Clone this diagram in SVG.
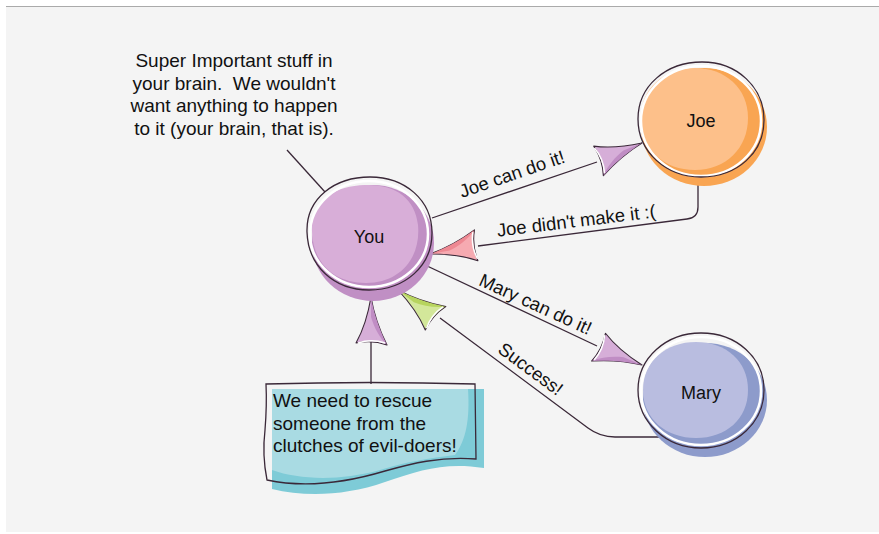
<svg xmlns="http://www.w3.org/2000/svg" width="879" height="534" viewBox="0 0 879 534">
  <style>
    .lbl { font-family: "Liberation Sans", Arial, sans-serif; font-size: 18px; fill: #111; }
    .edge { font-size: 18.5px; text-anchor: middle; }
    .note { font-size: 19px; }
    .keep { white-space: pre; }
    .node { text-anchor: middle; }
    .ol { fill: none; stroke: #3a2838; stroke-width: 1.3; }
    .hl { fill: none; stroke: #ffffff; stroke-width: 2.5; }
    .wire { fill: none; stroke: #3a2838; stroke-width: 1.3; stroke-linejoin: round; }
    .tip { stroke: #3a2838; stroke-width: 1.1; stroke-linejoin: round; }
  </style>
  <defs>
    <!-- sketchy arrowhead, tip at the origin pointing along +x -->
    <path id="head" d="M0,0 C-12,2 -30,7 -48,16 C-44,5 -44,-5 -46,-15 C-30,-6 -12,-2 0,0 Z"/>
    <path id="headShade" d="M0,0 C-12,2 -30,7 -48,16 C-40,8 -30,3 -20,0 Z"/>
    <path id="headEdge" d="M-46,-13 C-43,-4 -43,5 -46,14" />
  </defs>

  <!-- backdrop -->
  <rect x="0" y="0" width="879" height="534" fill="#ffffff"/>
  <rect x="6" y="6" width="873" height="526" fill="#f4f4f4"/>
  <line x1="6" y1="6.5" x2="879" y2="6.5" stroke="#aaaaaa" stroke-width="1.2"/>

  <!-- connectors -->
  <g id="connectors">
    <path class="wire" d="M287,150 L325,192"/>
    <path class="wire" d="M432,218 L597,162"/>
    <path class="wire" d="M698,179 L698,207 Q698,218 687,219 L478,246"/>
    <path class="wire" d="M425,265 L597,346"/>
    <path class="wire" d="M665,437 L615,437 Q600,437 588,428 L440,318"/>
    <path class="wire" d="M371,384 L371,342"/>

    <g transform="translate(642,143) rotate(-21.8)">
      <use href="#head" class="tip" fill="#d6aed8"/>
      <use href="#headShade" fill="#c08dc4"/>
      <use href="#headEdge" fill="none" stroke="#ffffff" stroke-width="1.5"/>
    </g>
    <g transform="translate(430,254) rotate(170)">
      <use href="#head" class="tip" fill="#f6aab1"/>
      <use href="#headShade" fill="#ee8892"/>
      <use href="#headEdge" fill="none" stroke="#ffffff" stroke-width="1.5"/>
    </g>
    <g transform="translate(642,365) rotate(22.9)">
      <use href="#head" class="tip" fill="#d6aed8"/>
      <use href="#headShade" fill="#c08dc4"/>
      <use href="#headEdge" fill="none" stroke="#ffffff" stroke-width="1.5"/>
    </g>
    <g transform="translate(398,290) rotate(-142.4)">
      <use href="#head" class="tip" fill="#d3e79a"/>
      <use href="#headShade" fill="#b7d45e"/>
      <use href="#headEdge" fill="none" stroke="#ffffff" stroke-width="1.5"/>
    </g>
    <g transform="translate(371,297) rotate(-90)">
      <use href="#head" class="tip" fill="#d6aed8"/>
      <use href="#headShade" fill="#c08dc4"/>
      <use href="#headEdge" fill="none" stroke="#ffffff" stroke-width="1.5"/>
    </g>

    <text class="lbl edge" transform="translate(514,180) rotate(-19)">Joe can do it!</text>
    <text class="lbl edge" transform="translate(577,227) rotate(-7)">Joe didn't make it :(</text>
    <text class="lbl edge" transform="translate(533,310) rotate(24.5)">Mary can do it!</text>
    <text class="lbl edge" transform="translate(527,374) rotate(36.5)">Success!</text>
  </g>

  <!-- brain annotation -->
  <g id="brain-note">
    <text class="lbl note" text-anchor="middle"><tspan x="234" y="67">Super Important stuff in</tspan><tspan x="234" y="89.5" class="keep">your brain.  We wouldn't</tspan><tspan x="234" y="112">want anything to happen</tspan><tspan x="234" y="134.5">to it (your brain, that is).</tspan></text>
  </g>

  <!-- You -->
  <g id="you">
    <ellipse cx="373" cy="243" rx="61" ry="58" fill="#c08fc4"/>
    <path d="M312,232 C310,200 335,186 365,185 C395,184 415,198 418,225 C421,258 400,283 366,283 C333,283 313,262 312,232 Z" fill="#d8aed8"/>
    <ellipse class="hl" cx="369" cy="234" rx="59" ry="53"/>
    <path class="ol" d="M307,232 C306,198 335,177 370,177 C405,177 432,200 432,233 C432,266 405,290 369,290 C334,290 308,266 307,232 Z"/>
    <text class="lbl node" x="369" y="243">You</text>
  </g>

  <!-- Joe -->
  <g id="joe">
    <ellipse cx="704" cy="127" rx="63" ry="59" fill="#f9a552"/>
    <path d="M641,119 C640,88 665,68 695,68 C725,68 748,88 748,118 C748,148 726,170 695,170 C664,170 642,150 641,119 Z" fill="#fdc08a"/>
    <ellipse class="hl" cx="701" cy="121" rx="60" ry="55"/>
    <path class="ol" d="M638,119 C638,86 666,62 702,62 C737,62 764,87 764,120 C764,153 737,177 701,177 C666,177 638,152 638,119 Z"/>
    <text class="lbl node" x="701" y="127">Joe</text>
  </g>

  <!-- Mary -->
  <g id="mary">
    <ellipse cx="705" cy="400" rx="62" ry="57" fill="#8d9bcb"/>
    <path d="M643,390 C643,361 666,342 696,342 C726,342 748,361 748,390 C748,419 726,438 696,438 C666,438 643,419 643,390 Z" fill="#b9bde0"/>
    <ellipse class="hl" cx="701" cy="391" rx="60" ry="54"/>
    <path class="ol" d="M638,390 C638,358 666,333 701,333 C737,333 764,358 764,390 C764,422 737,448 701,448 C666,448 638,422 638,390 Z"/>
    <text class="lbl node" x="701" y="399">Mary</text>
  </g>

  <!-- rescue note -->
  <g id="rescue-note">
    <path d="M272,389 L484,389 L484,468 C445,462 420,470 385,482 C345,496 305,497 272,489 Z" fill="#7ecbd7"/>
    <path d="M272,389 L468,389 C470,420 466,440 455,455 C430,458 405,462 380,470 C340,481 300,480 272,470 Z" fill="#a9dbe3"/>
    <path class="ol" d="M266,384 Q370,381 475,384 L476,459 C440,456 410,464 385,471 C345,483 305,488 267,480 Q262,455 265,430 Q267,405 266,384 Z"/>
    <text class="lbl note"><tspan x="273" y="407">We need to rescue</tspan><tspan x="273" y="429.5">someone from the</tspan><tspan x="273" y="452">clutches of evil-doers!</tspan></text>
  </g>
</svg>
